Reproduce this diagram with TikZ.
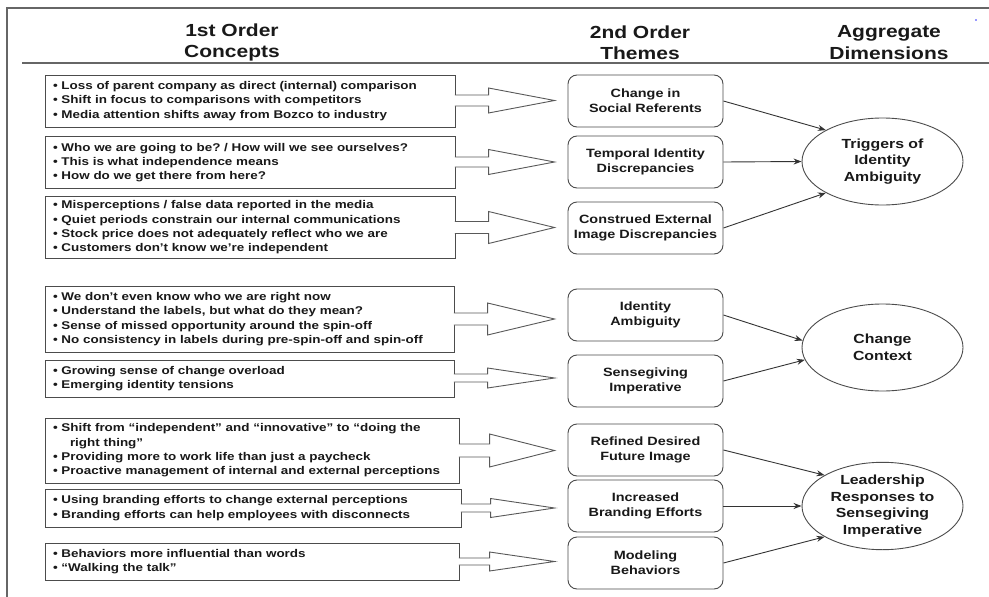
\documentclass[tikz,border=0pt]{standalone}
\usepackage{fontspec}
\setmainfont{Liberation Sans}[FakeStretch=1.2]
\usetikzlibrary{calc,shapes.geometric,arrows.meta}
\frenchspacing

\newcommand\hollowarrow[6]{% #1 from, #2 to, #3 dy, #4 shaft half, #5 head half, #6 head length
  \coordinate (s) at ($(#1.east)+(0,#3)$);
  \coordinate (t) at ($(#2.west)+(-13,0)$);
  \coordinate (tip) at (t |- s);
  \coordinate (h) at ($(tip)+(-#6,0)$);
  \draw[blockarrow] ($(s)+(-0.6,-#4)$) -- ($(h)+(0,-#4)$) -- ($(h)+(0,-#5)$) -- (tip)
     -- ($(h)+(0,#5)$) -- ($(h)+(0,#4)$) -- ($(s)+(-0.6,#4)$);
}

\begin{document}
\begin{tikzpicture}[x=1pt,y=-1pt,
  frameline/.style={draw=black!60,line width=1.1pt},
  boxline/.style={draw=black!70,line width=0.9pt},
  concept/.style={boxline,rectangle,align=left,inner xsep=8pt,inner ysep=0pt,
     font=\bfseries\fontsize{11.2}{14.3}\selectfont\frenchspacing,text=black!90},
  theme/.style={boxline,rectangle,rounded corners=9pt,align=center,
     minimum width=155pt,minimum height=52pt,inner sep=2pt,
     font=\bfseries\fontsize{12}{15}\selectfont,text=black!90},
  dimension/.style={boxline,ellipse,minimum width=161pt,minimum height=87pt,
     inner sep=0pt,align=center,font=\bfseries\fontsize{13.2}{16.5}\selectfont,text=black!90},
  heading/.style={align=center,font=\bfseries\fontsize{17.5}{21.5}\selectfont,text=black!90},
  link/.style={draw=black!80,line width=0.9pt,-{Stealth[length=8pt,width=6pt]}},
  blockarrow/.style={draw=black!65,line width=0.9pt,fill=white,line join=miter},
]
\useasboundingbox (0,0) rectangle (989,597);
\fill[white] (0,0) rectangle (989,597);

% frame
\coordinate (fbl) at (7,597);
\coordinate (ftl) at (7,8);
\coordinate (ftr) at (989,8);
\coordinate (hl) at (22,63);
\coordinate (hr) at (989,63);
\draw[frameline] (fbl) -- (ftl) -- (ftr);
\draw[frameline] (hl) -- (hr);
\fill[blue!80] (976,20) circle (0.8);

% headings
\node[heading] (h1) at (232,42.5) {1st Order\\Concepts};
\node[heading] (h2) at (640,42.5) {2nd Order\\Themes};
\node[heading] (h3) at (889,42.5) {Aggregate\\Dimensions};

% first order concepts
\node[concept,text width=394pt,minimum height=52pt] (c1) at (250,101)
 {• Loss of parent company as direct (internal) comparison\\
  • Shift in focus to comparisons with competitors\\
  • Media attention shifts away from Bozco to industry};
\node[concept,text width=394pt,minimum height=52pt] (c2) at (250,162.5)
 {• Who we are going to be? / How will we see ourselves?\\
  • This is what independence means\\
  • How do we get there from here?};
\node[concept,text width=394pt,minimum height=62pt] (c3) at (250,227.5)
 {• Misperceptions / false data reported in the media\\
  • Quiet periods constrain our internal communications\\
  • Stock price does not adequately reflect who we are\\
  • Customers don’t know we’re independent};
\node[concept,text width=393pt,minimum height=66pt] (c4) at (249.5,319)
 {• We don’t even know who we are right now\\
  • Understand the labels, but what do they mean?\\
  • Sense of missed opportunity around the spin-off\\
  • No consistency in labels during pre-spin-off and spin-off};
\node[concept,text width=393pt,minimum height=37pt] (c5) at (249.5,378.5)
 {• Growing sense of change overload\\
  • Emerging identity tensions};
\node[concept,text width=398pt,minimum height=65pt] (c6) at (252,450.5)
 {• Shift from “independent” and “innovative” to “doing the\\
  \hspace*{17pt}right thing”\\
  • Providing more to work life than just a paycheck\\
  • Proactive management of internal and external perceptions};
\node[concept,text width=400pt,minimum height=38pt] (c7) at (253,508)
 {• Using branding efforts to change external perceptions\\
  • Branding efforts can help employees with disconnects};
\node[concept,text width=398pt,minimum height=37pt] (c8) at (252,561.5)
 {• Behaviors more influential than words\\
  • “Walking the talk”};

% second order themes
\node[theme] (t1) at (645.5,101) {Change in\\Social Referents};
\node[theme] (t2) at (645.5,162) {Temporal Identity\\Discrepancies};
\node[theme] (t3) at (645.5,228) {Construed External\\Image Discrepancies};
\node[theme] (t4) at (645.5,315) {Identity\\Ambiguity};
\node[theme] (t5) at (645.5,381) {Sensegiving\\Imperative};
\node[theme] (t6) at (645.5,450) {Refined Desired\\Future Image};
\node[theme] (t7) at (645.5,506) {Increased\\Branding Efforts};
\node[theme] (t8) at (645.5,563) {Modeling\\Behaviors};

% aggregate dimensions
\node[dimension] (d1) at (882.5,161.5) {Triggers of\\Identity\\Ambiguity};
\node[dimension] (d2) at (882.5,347.5) {Change\\Context};
\node[dimension] (d3) at (882.5,506) {Leadership\\Responses to\\Sensegiving\\Imperative};

% hollow block arrows
\hollowarrow{c1}{t1}{-0.5}{5.5}{12.5}{66}
\hollowarrow{c2}{t2}{-0.5}{5}{12.5}{66}
\hollowarrow{c3}{t3}{0}{6}{16}{66}
\hollowarrow{c4}{t4}{0}{6}{16}{67}
\hollowarrow{c5}{t5}{-0.5}{4}{10}{67}
\hollowarrow{c6}{t6}{0}{6.5}{16.5}{65}
\hollowarrow{c7}{t7}{0}{4}{9.5}{64}
\hollowarrow{c8}{t8}{0}{3.5}{9.5}{65}

% links
\draw[link] (t1.east) -- (d1.151);
\draw[link] (t2.east) -- (d1.west);
\draw[link] (t3.east) -- (d1.209);
\draw[link] (t4.east) -- (d2.175);
\draw[link] (t5.east) -- (d2.189);
\draw[link] (t6.east) -- (d3.152);
\draw[link] (t7.east) -- (d3.west);
\draw[link] (t8.east) -- (d3.208);
\end{tikzpicture}
\end{document}
